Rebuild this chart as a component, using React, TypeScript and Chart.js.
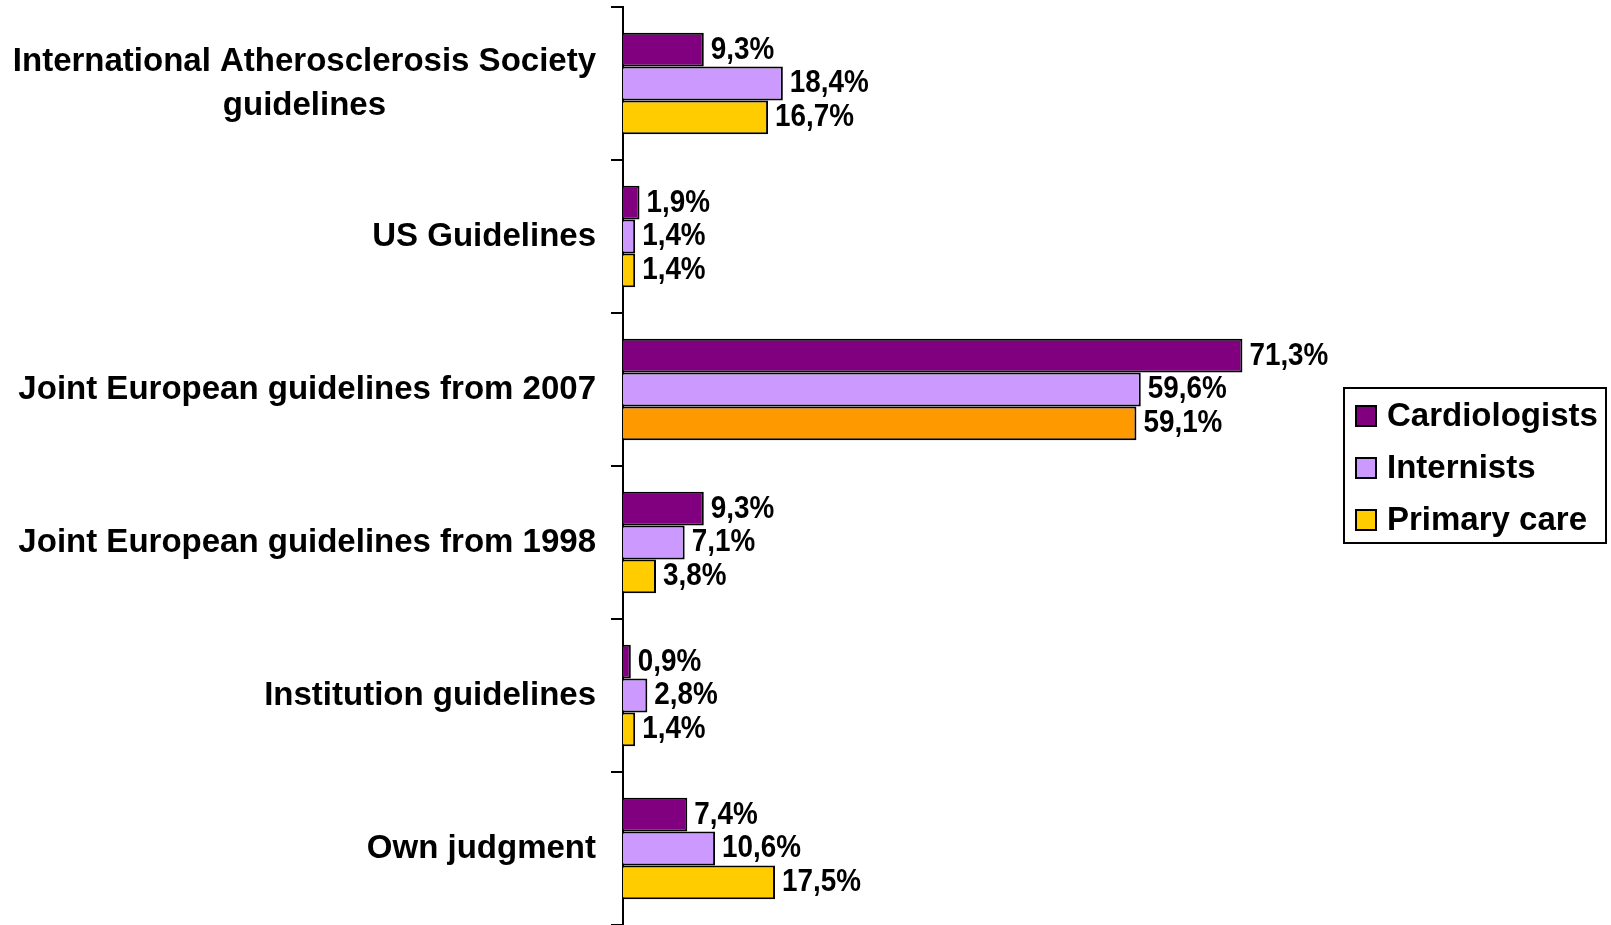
import React, { useEffect, useRef } from "react";
import { Chart, registerables } from "chart.js";

Chart.register(...registerables);

const categories: string[][] = [
  ["International Atherosclerosis Society", "guidelines"],
  ["US Guidelines"],
  ["Joint European guidelines from 2007"],
  ["Joint European guidelines from 1998"],
  ["Institution guidelines"],
  ["Own judgment"],
];

const seriesNames = ["Cardiologists", "Internists", "Primary care"];

const cardiologists = [9.3, 1.9, 71.3, 9.3, 0.9, 7.4];
const internists = [18.4, 1.4, 59.6, 7.1, 2.8, 10.6];
const primaryCare = [16.7, 1.4, 59.1, 3.8, 1.4, 17.5];

const PURPLE = "#800080";
const LILAC = "#CC99FF";
const GOLD = "#FFCC00";
const ORANGE = "#FF9900";

const FONT = "'Liberation Sans', Arial, sans-serif";

const fmt = (v: number) => v.toFixed(1).replace(".", ",") + "%";

const categoryLabelPlugin = {
  id: "categoryLabels",
  afterDraw(chart: any) {
    const ctx = chart.ctx;
    const yScale = chart.scales.y;
    const right = chart.chartArea.left - 27;
    ctx.save();
    ctx.font = `bold 33px ${FONT}`;
    ctx.fillStyle = "#000";
    ctx.textBaseline = "middle";
    categories.forEach((lines, i) => {
      const cy = yScale.getPixelForTick(i);
      const lh = 44;
      const startY = cy - ((lines.length - 1) * lh) / 2;
      const w0 = ctx.measureText(lines[0]).width;
      lines.forEach((line, j) => {
        if (j === 0) {
          ctx.textAlign = "right";
          ctx.fillText(line, right, startY);
        } else {
          ctx.textAlign = "center";
          ctx.fillText(line, right - w0 / 2, startY + j * lh);
        }
      });
    });
    ctx.restore();
  },
};

const valueLabelPlugin = {
  id: "valueLabels",
  afterDatasetsDraw(chart: any) {
    const ctx = chart.ctx;
    ctx.save();
    ctx.font = `bold 32px ${FONT}`;
    ctx.fillStyle = "#000";
    ctx.textBaseline = "middle";
    ctx.textAlign = "left";
    chart.data.datasets.forEach((ds: any, di: number) => {
      const meta = chart.getDatasetMeta(di);
      meta.data.forEach((bar: any, i: number) => {
        const v = ds.data[i];
        ctx.save();
        ctx.translate(bar.x + 7, bar.y);
        ctx.scale(0.87, 1);
        ctx.fillText(fmt(v), 0, 0);
        ctx.restore();
      });
    });
    ctx.restore();
  },
};

const legendPlugin = {
  id: "boxLegend",
  afterDraw(chart: any) {
    const ctx = chart.ctx;
    const left = 1344;
    const top = 388;
    const width = 262;
    const height = 155;
    ctx.save();
    ctx.lineWidth = 2;
    ctx.strokeStyle = "#000";
    ctx.strokeRect(left, top, width, height);
    ctx.font = `bold 33px ${FONT}`;
    ctx.textBaseline = "middle";
    ctx.textAlign = "left";
    chart.data.datasets.forEach((ds: any, i: number) => {
      const cy = top + 28 + i * 52;
      const color = Array.isArray(ds.backgroundColor) ? ds.backgroundColor[0] : ds.backgroundColor;
      ctx.fillStyle = color;
      ctx.fillRect(left + 12, cy - 10, 20, 20);
      ctx.lineWidth = 2;
      ctx.strokeRect(left + 12, cy - 10, 20, 20);
      ctx.fillStyle = "#000";
      ctx.fillText(ds.label, left + 43, cy + 1);
    });
    ctx.restore();
  },
};

export default function App() {
  const canvasRef = useRef<HTMLCanvasElement | null>(null);

  useEffect(() => {
    if (!canvasRef.current) return;
    const primaryColors = primaryCare.map((_, i) => (i === 2 ? ORANGE : GOLD));
    const chart = new Chart(canvasRef.current, {
      type: "bar",
      data: {
        labels: categories.map((c) => c.join(" ")),
        datasets: [
          {
            label: seriesNames[0],
            data: cardiologists,
            backgroundColor: PURPLE,
            borderColor: "#000",
            borderWidth: 2,
          },
          {
            label: seriesNames[1],
            data: internists,
            backgroundColor: LILAC,
            borderColor: "#000",
            borderWidth: 2,
          },
          {
            label: seriesNames[2],
            data: primaryCare,
            backgroundColor: primaryColors,
            borderColor: "#000",
            borderWidth: 2,
          },
        ],
      },
      options: {
        indexAxis: "y",
        responsive: false,
        animation: false,
        layout: { padding: { top: 7, right: 293, bottom: 0, left: 0 } },
        datasets: {
          bar: { categoryPercentage: 0.663, barPercentage: 1.0 },
        },
        plugins: {
          legend: { display: false },
          tooltip: { enabled: false },
          title: { display: false },
        },
        scales: {
          x: {
            display: false,
            min: 0,
            max: 80,
          },
          y: {
            position: "left",
            afterFit: (scale: any) => {
              scale.width = 623;
            },
            ticks: { display: false },
            grid: {
              offset: true,
              drawOnChartArea: false,
              drawTicks: true,
              tickLength: 12,
              color: "#000",
              lineWidth: 2,
            },
            border: { display: true, color: "#000", width: 2 },
          },
        },
      },
      plugins: [categoryLabelPlugin, valueLabelPlugin, legendPlugin],
    });
    return () => chart.destroy();
  }, []);

  return (
    <div style={{ position: "fixed", left: 0, top: 0, width: 1611, height: 925, background: "#fff" }}>
      <canvas ref={canvasRef} width={1611} height={925} style={{ display: "block" }} />
    </div>
  );
}
